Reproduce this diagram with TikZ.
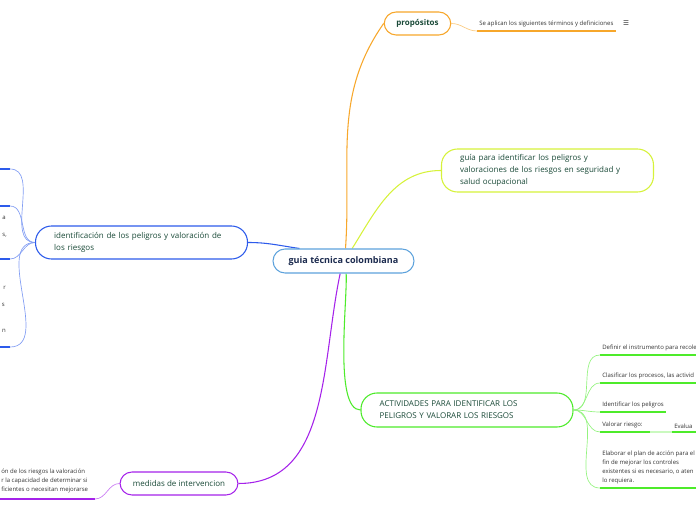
\documentclass[tikz,border=0pt]{standalone}
\usepackage{fontspec}
\setmainfont{Open Sans}
\newfontfamily\symfont{DejaVu Sans}
\usetikzlibrary{backgrounds}

\definecolor{rootblue}{HTML}{5DA2DC}
\definecolor{rootnavy}{HTML}{1C2B4F}
\definecolor{topictext}{HTML}{1A4A38}
\definecolor{leaftext}{HTML}{333333}
\definecolor{branchorange}{HTML}{F7A72B}
\definecolor{branchlime}{HTML}{D6F23A}
\definecolor{branchblue}{HTML}{2D5BEB}
\definecolor{branchgreen}{HTML}{4DEB2A}
\definecolor{branchpurple}{HTML}{A522EA}

\tikzset{
  topic/.style={draw, line width=0.8pt, fill=white, text=topictext,
    inner sep=0pt, rounded corners=9pt},
  wide topic/.style={topic, align=left, text width=131pt, inner xsep=14pt,
    rounded corners=12pt, font=\fontsize{6}{9}\selectfont},
  leaf/.style={text=leaftext, inner xsep=1.5pt, inner ysep=2.5pt,
    font=\fontsize{4.5}{6.8}\selectfont},
  branch/.style={line width=0.8pt},
  twig/.style={line width=0.5pt},
  underline/.style={line width=1.6pt}
}

\begin{document}
\begin{tikzpicture}[x=0.75pt,y=-0.75pt]
  \useasboundingbox (0,0) rectangle (696,520);
  \clip (0,0) rectangle (696,520);

  % central topic
  \node[topic, draw=rootblue, text=rootnavy, minimum width=105.75pt,
    minimum height=18pt, font=\bfseries\fontsize{6.8}{8}\selectfont]
    (guia) at (343.5,261) {guia técnica colombiana};

  % main topics
  \node[topic, draw=branchorange, minimum width=50pt, minimum height=17.25pt,
    font=\bfseries\fontsize{6}{8}\selectfont] (proposito) at (417.5,23.5) {propósitos};
  \node[wide topic, draw=branchlime, minimum height=32.25pt] (guiapel) at (547.5,170.5)
    {guía para identificar los peligros y\\valoraciones de los riesgos en seguridad y\\salud ocupacional};
  \node[wide topic, draw=branchblue, minimum height=24.75pt] (identif) at (141.5,242.5)
    {identificación de los peligros y valoración de\\los riesgos};
  \node[wide topic, draw=branchgreen, minimum height=25.5pt] (activ) at (467,410)
    {ACTIVIDADES PARA IDENTIFICAR LOS\\PELIGROS Y VALORAR LOS RIESGOS};
  \node[topic, draw=branchpurple, minimum width=88.5pt, minimum height=17.25pt,
    font=\fontsize{6}{8}\selectfont] (medidas) at (179,483.5) {medidas de intervencion};

  % branches from the central topic
  \begin{scope}[on background layer]
    \draw[branch, branchorange] ([xshift=1.5pt]guia.north) to[out=86,in=235] (proposito.west);
    \draw[branch, branchlime] ([xshift=6.5pt]guia.north) to[out=58,in=180] (guiapel.west);
    \draw[branch, branchblue] ([xshift=-33pt]guia.north) to[out=172,in=0] (identif.east);
    \draw[branch, branchgreen] ([xshift=2pt]guia.south) to[out=-87,in=180,looseness=0.5] (activ.west);
    \draw[branch, branchpurple] ([xshift=-2.5pt]guia.south) to[out=-102,in=0] (medidas.east);
  \end{scope}

  % propósitos
  \node[leaf, anchor=south west] (termino) at (477,31) {Se aplican los siguientes términos y definiciones};
  \node[text=leaftext, font=\symfont\fontsize{5}{6}\selectfont] (nota) at (626,23.5) {☰};
  \draw[underline, branchorange] (termino.south west) -- (termino.south east);
  \draw[twig, branchorange!60] (proposito.east) to[out=0,in=180] (termino.south west);

  % identificación: children cut at the left edge
  \foreach \name/\y in {ida/169, idb/206, idc/259, idd/347} {
    \coordinate (\name) at (10,\y);
    \draw[underline, branchblue] (0,\y) -- (\name);
    \draw[twig, branchblue!60] (identif.west) to[out=180,in=0] (\name);
  }
  \node[leaf, anchor=east, inner xsep=0pt] (frA) at (6,218) {a};
  \node[leaf, anchor=east, inner xsep=0pt] (frB) at (7,235) {s,};
  \node[leaf, anchor=east, inner xsep=0pt] (frC) at (6,288) {r};
  \node[leaf, anchor=east, inner xsep=0pt] (frD) at (5,305) {s};
  \node[leaf, anchor=east, inner xsep=0pt] (frE) at (6,331) {n};

  % actividades
  \node[leaf, anchor=south west] (act1) at (600,355) {Definir el instrumento para recole};
  \node[leaf, anchor=south west] (act2) at (600,383) {Clasificar los procesos, las activid};
  \node[leaf, anchor=south west] (act3) at (600,412) {Identificar los peligros};
  \node[leaf, anchor=south west] (act4) at (600,432) {Valorar riesgo:};
  \coordinate (act4end) at (650,432);
  \node[leaf, anchor=south west] (act4a) at (672,432) {Evalua};
  \node[leaf, anchor=south west, align=left] (act5) at (600,488)
    {Elaborar el plan de acción para el\\fin de mejorar los controles\\existentes si es necesario, o aten\\lo requiera.};
  \draw[underline, branchgreen] (act1.south west) -- (696,355);
  \draw[underline, branchgreen] (act2.south west) -- (696,383);
  \draw[underline, branchgreen] (act3.south west) -- (act3.south east);
  \draw[underline, branchgreen] (act4.south west) -- (act4end);
  \draw[underline, branchgreen] (act4a.south west) -- (696,432);
  \draw[underline, branchgreen] (act5.south west) -- (696,488);
  \draw[underline, branchgreen!30] (act4end) -- (act4a.south west);
  \foreach \leafname in {act1, act2, act3, act4, act5}
    \draw[twig, branchgreen!60] (activ.east) to[out=0,in=180] (\leafname.south west);

  % medidas de intervencion
  \node[leaf, anchor=south west, align=left, inner xsep=0pt] (medtxt) at (1,497)
    {ón de los riesgos la valoración\\r la capacidad de determinar si\\ficientes o necesitan mejorarse};
  \coordinate (medend) at (95,499);
  \draw[underline, branchpurple] (0,499) -- (medend);
  \draw[twig, branchpurple!60] (medidas.west) to[out=180,in=0] (medend);
\end{tikzpicture}
\end{document}
